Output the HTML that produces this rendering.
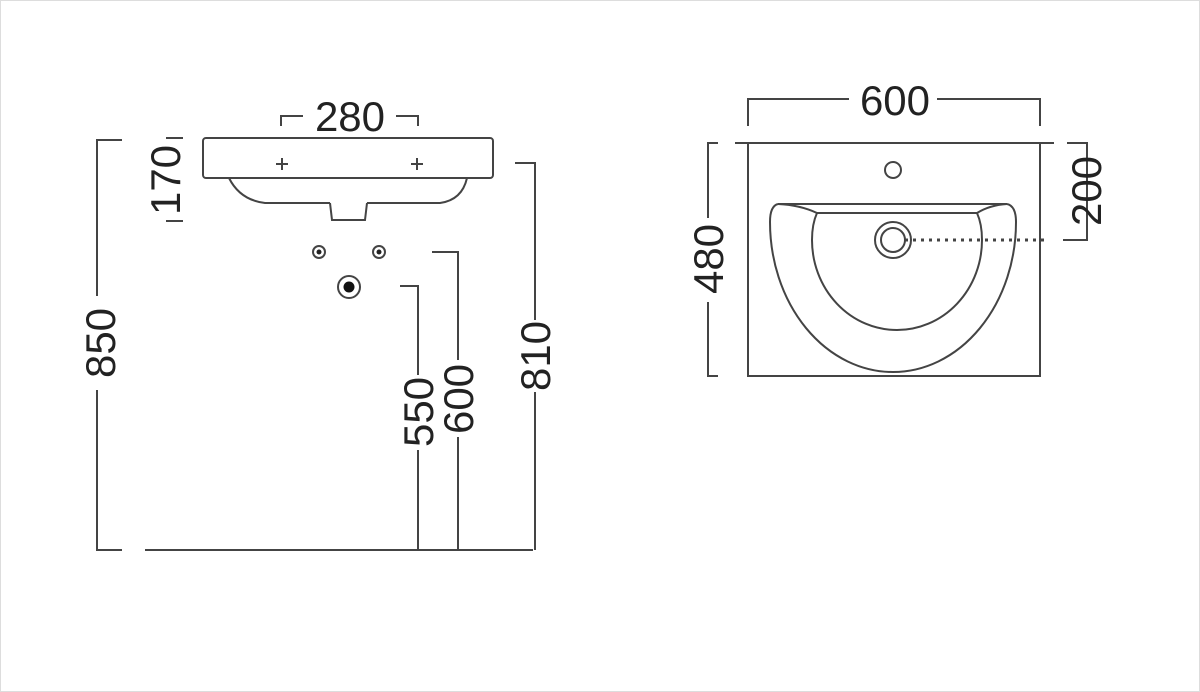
<!DOCTYPE html>
<html><head><meta charset="utf-8"><style>body{margin:0;background:#fff}svg{display:block}</style></head><body>
<svg width="1200" height="692" viewBox="0 0 1200 692" xmlns="http://www.w3.org/2000/svg">
<rect x="0.5" y="0.5" width="1199" height="691" fill="#fff" stroke="#ddd"/>
<g fill="none" stroke="#444" stroke-width="2">
<!-- left view -->
<rect x="203" y="138" width="290" height="40" rx="3"/>
<path d="M229,178 Q240,200 265,203 L330,203 M367,203 L440,203 Q462,200 467,178"/>
<path d="M330,203 L332,220 L365,220 L367,203"/>
<path d="M276,164h12M282,158v12M411,164h12M417,158v12"/>
<circle cx="319" cy="252" r="6"/><circle cx="379" cy="252" r="6"/>
<circle cx="349" cy="287" r="11"/>
<path d="M281,126v-10h22M396,116h22v10"/>
<path d="M166,138h17M166,221h17"/>
<path d="M122,140h-25v156M97,390v160h25M145,550h388"/>
<path d="M515,163h20v157M535,392v158"/>
<path d="M432,252h26v108M458,437v113"/>
<path d="M400,286h18v89M418,450v100"/>
<!-- right view -->
<path d="M748,126v-27h101M937,99h103v27"/>
<path d="M735,143h319"/>
<path d="M748,143v233h292v-233"/>
<circle cx="893" cy="170" r="8"/>
<path d="M778,204h229"/>
<path d="M778,204 Q800,205 817,213 M1007,204 Q990,205 977,213 M817,213h160"/>
<path d="M778,204 Q770,206 770,222 A123,150 0 0 0 1016,222 Q1016,206 1007,204"/>
<path d="M817,213 Q812,224 812,240 A85,90 0 0 0 982,240 Q982,224 977,213"/>
<circle cx="893" cy="240" r="18"/><circle cx="893" cy="240" r="12"/>
<path d="M1067,143h20v97h-24"/>
<path d="M718,143h-10v75M708,302v74h10"/>
</g>
<circle cx="319" cy="252" r="2.5" fill="#222"/><circle cx="379" cy="252" r="2.5" fill="#222"/>
<circle cx="349" cy="287" r="5.5" fill="#111"/>
<path d="M905,240H1045" stroke="#444" stroke-width="3" stroke-dasharray="3,5" fill="none"/>
<g font-family="Liberation Sans, sans-serif" font-size="42" fill="#222" text-anchor="middle">
<text x="350" y="131">280</text>
<text x="895" y="115">600</text>
<text transform="translate(180,180) rotate(-90)">170</text>
<text transform="translate(115,343) rotate(-90)">850</text>
<text transform="translate(550,356) rotate(-90)">810</text>
<text transform="translate(473,399) rotate(-90)">600</text>
<text transform="translate(433,412) rotate(-90)">550</text>
<text transform="translate(723,259) rotate(-90)">480</text>
<text transform="translate(1101,191) rotate(-90)">200</text>
</g>
</svg>
</body></html>
